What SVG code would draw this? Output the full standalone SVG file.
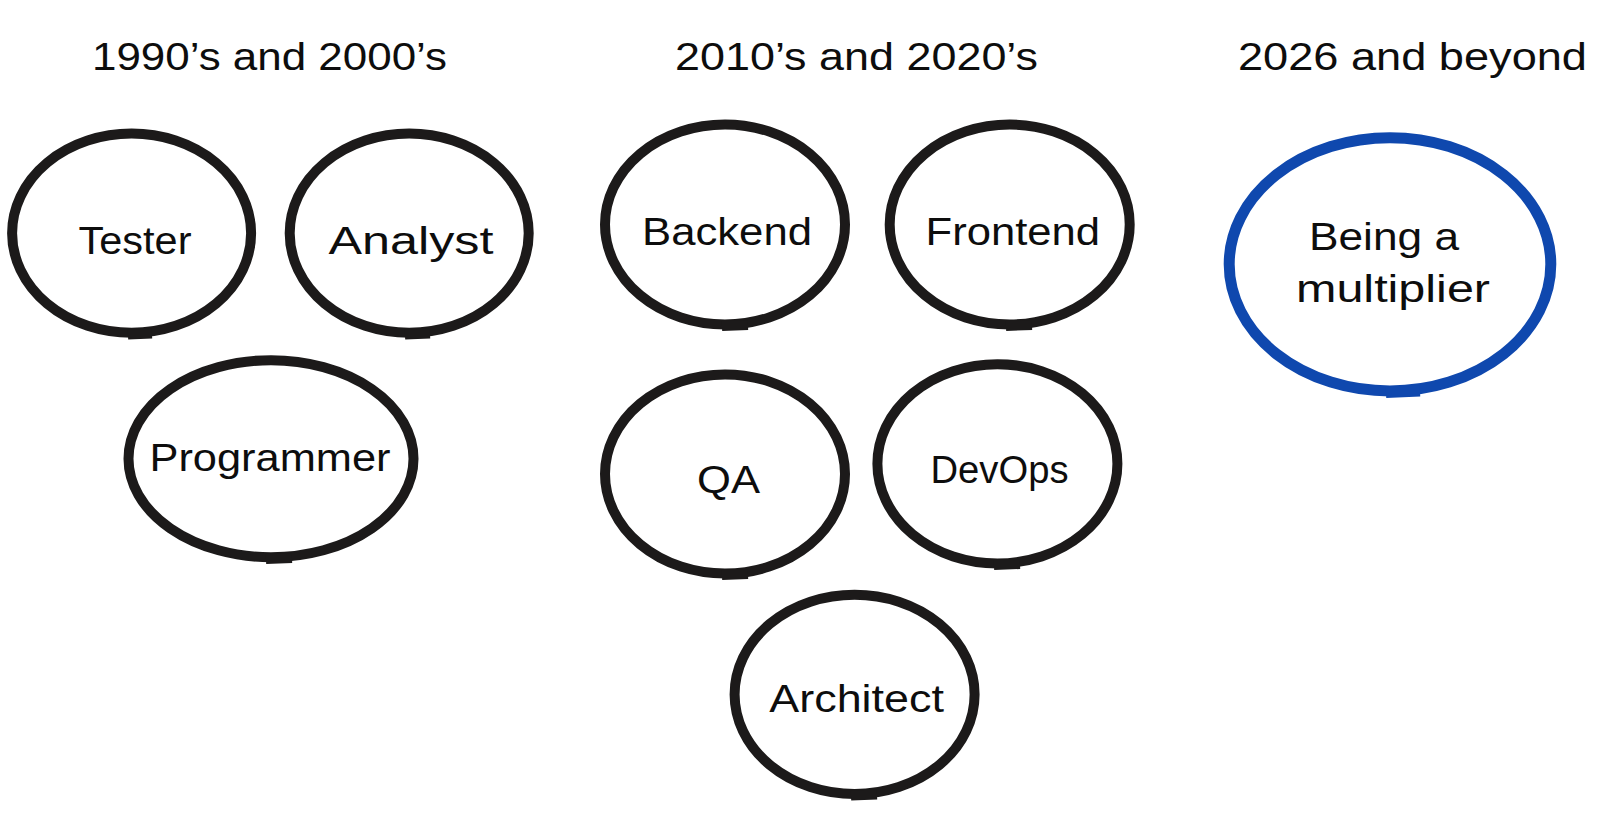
<svg xmlns="http://www.w3.org/2000/svg" width="1600" height="839" viewBox="0 0 1600 839">
<style>
.ring{fill:none;stroke:#1c1a1a;stroke-width:10}
.ring.blue{stroke:#0f48ae;stroke-width:11}
.tick{fill:none;stroke:#1c1a1a;stroke-width:10;stroke-linecap:butt}
.tick.blue{stroke:#0f48ae;stroke-width:11}
.t{font-family:"Liberation Sans",Arial,sans-serif;font-size:38px;fill:#0d0d0d;text-anchor:middle}
.h{font-family:"Liberation Sans",Arial,sans-serif;font-size:38px;fill:#0d0d0d;text-anchor:middle}
</style>
<rect width="1600" height="839" fill="#ffffff"/>
<g id="titles">
<text class="h" x="269.5" y="70" textLength="355" lengthAdjust="spacingAndGlyphs">1990’s and 2000’s</text>
<text class="h" x="856.5" y="70" textLength="363" lengthAdjust="spacingAndGlyphs">2010’s and 2020’s</text>
<text class="h" x="1412.5" y="70" textLength="349" lengthAdjust="spacingAndGlyphs">2026 and beyond</text>
</g>
<g id="tester">
<ellipse class="ring" cx="131.6" cy="233.2" rx="119.5" ry="99.6"/>
<path class="tick" d="M128 334.5 L152 333.5"/>
<text class="t" x="135" y="254" textLength="113" lengthAdjust="spacingAndGlyphs">Tester</text>
</g>
<g id="analyst">
<ellipse class="ring" cx="409.2" cy="233.2" rx="119.5" ry="99.6"/>
<path class="tick" d="M405 334.5 L430 333.5"/>
<text class="t" x="411" y="254" textLength="165" lengthAdjust="spacingAndGlyphs">Analyst</text>
</g>
<g id="programmer">
<ellipse class="ring" cx="271" cy="458.7" rx="142.5" ry="98.5"/>
<path class="tick" d="M266 559 L292 558"/>
<text class="t" x="270" y="471" textLength="241" lengthAdjust="spacingAndGlyphs">Programmer</text>
</g>
<g id="backend">
<ellipse class="ring" cx="725" cy="224.5" rx="120" ry="100"/>
<path class="tick" d="M722 326 L748 325"/>
<text class="t" x="727" y="245" textLength="170" lengthAdjust="spacingAndGlyphs">Backend</text>
</g>
<g id="frontend">
<ellipse class="ring" cx="1009.7" cy="224.5" rx="120" ry="100"/>
<path class="tick" d="M1006 326 L1032 325"/>
<text class="t" x="1012.8" y="245" textLength="174.5" lengthAdjust="spacingAndGlyphs">Frontend</text>
</g>
<g id="qa">
<ellipse class="ring" cx="725" cy="474" rx="120" ry="99.6"/>
<path class="tick" d="M722 575 L748 574"/>
<text class="t" x="728.5" y="493" textLength="63" lengthAdjust="spacingAndGlyphs">QA</text>
</g>
<g id="devops">
<ellipse class="ring" cx="997.4" cy="463.8" rx="120" ry="99.6"/>
<path class="tick" d="M994 565 L1020 564"/>
<text class="t" x="999.5" y="483" textLength="138" lengthAdjust="spacingAndGlyphs">DevOps</text>
</g>
<g id="architect">
<ellipse class="ring" cx="854.6" cy="694.4" rx="120" ry="99.6"/>
<path class="tick" d="M851 795.5 L877 794.5"/>
<text class="t" x="856.6" y="712" textLength="174.5" lengthAdjust="spacingAndGlyphs">Architect</text>
</g>
<g id="multiplier">
<ellipse class="ring blue" cx="1390" cy="264.3" rx="160.8" ry="126.6"/>
<path class="tick blue" d="M1386 392.5 L1420 391"/>
<text class="t" x="1384" y="250" textLength="150" lengthAdjust="spacingAndGlyphs">Being a</text>
<text class="t" x="1393" y="302" textLength="194" lengthAdjust="spacingAndGlyphs">multiplier</text>
</g>
<g id="connectors"></g>
</svg>
